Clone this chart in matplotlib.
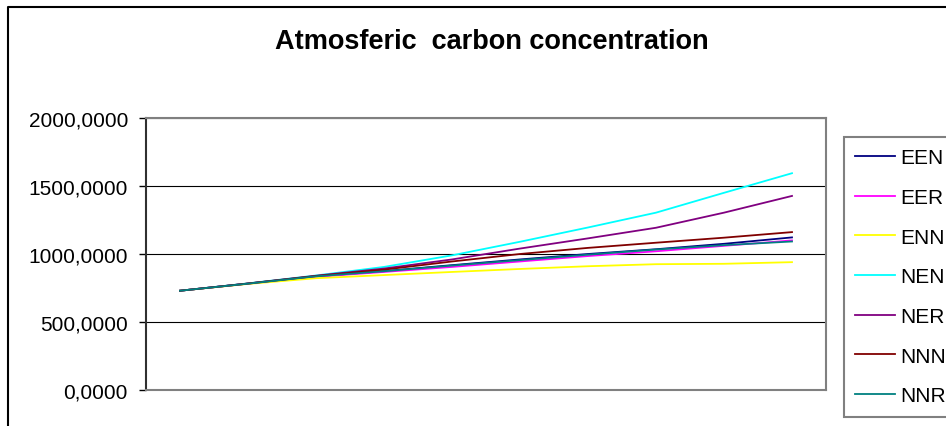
import numpy as np
import matplotlib
matplotlib.use("Agg")
import matplotlib.pyplot as plt
from matplotlib.lines import Line2D
from matplotlib.ticker import FuncFormatter

plt.rcParams['font.family'] = ['Liberation Sans', 'DejaVu Sans']

# datos (10 periodos)
periods = np.arange(10)
EEN = [730, 782, 836, 874, 918, 960, 1000, 1035, 1075, 1122]
EER = [730, 782, 832, 868, 905, 945, 985, 1020, 1060, 1100]
ENN = [730, 780, 822, 845, 868, 890, 910, 925, 928, 940]
NEN = [730, 784, 842, 905, 990, 1090, 1195, 1304, 1450, 1594]
NER = [730, 783, 840, 893, 960, 1040, 1115, 1193, 1304, 1427]
NNN = [730, 783, 838, 885, 945, 1000, 1045, 1083, 1120, 1161]
NNR = [730, 782, 836, 873, 915, 955, 995, 1033, 1065, 1092]

series_names = ["EEN", "EER", "ENN", "NEN", "NER", "NNN", "NNR"]
series_vals = [EEN, EER, ENN, NEN, NER, NNN, NNR]
colores = ["#000080", "#FF00FF", "#FFFF00", "#00FFFF", "#800080", "#800000", "#008080"]

W, H = 946, 427
fig = plt.figure(figsize=(W / 100, H / 100), dpi=100)
ax = fig.add_axes([146 / W, 36 / H, 680 / W, 272 / H])

for nombre, vals, c in zip(series_names, series_vals, colores):
    ax.plot(periods, vals, color=c, lw=1.3, label=nombre)

ax.set_xlim(-0.5, 9.5)
ax.set_ylim(0, 2000)
ax.set_yticks([0, 500, 1000, 1500, 2000])
ax.yaxis.set_major_formatter(FuncFormatter(lambda v, p: ("%.4f" % v).replace(".", ",")))
ax.set_xticks([])
ax.tick_params(axis='y', direction='out', length=5, width=1, pad=8, labelsize=15, colors='black')
ax.grid(axis='y', color='black', lw=0.8)
ax.set_axisbelow(True)
for s in ['top', 'right', 'bottom']:
    ax.spines[s].set_color('#808080')
    ax.spines[s].set_linewidth(1.5)
ax.spines['left'].set_color('#303030')
ax.spines['left'].set_linewidth(1.5)

fig.text(492 / W, 1 - 42 / H, "Atmosferic  carbon concentration", ha='center', va='center',
         fontsize=19.5, fontweight='bold')

leg = fig.legend(loc='upper left', bbox_to_anchor=(844 / W, 1 - 138 / H), borderaxespad=0,
                 fontsize=15, handlelength=1.9, handletextpad=0.25, labelspacing=0.99,
                 fancybox=False, edgecolor='#808080', framealpha=1, borderpad=0.55)
leg.get_frame().set_linewidth(1.5)

# borde exterior del area del grafico
fig.add_artist(Line2D([8 / W, 8 / W, 1.0], [0, 1 - 8 / H, 1 - 8 / H], transform=fig.transFigure,
                      color='black', lw=1.5))

fig.savefig("out.png", dpi=100)
